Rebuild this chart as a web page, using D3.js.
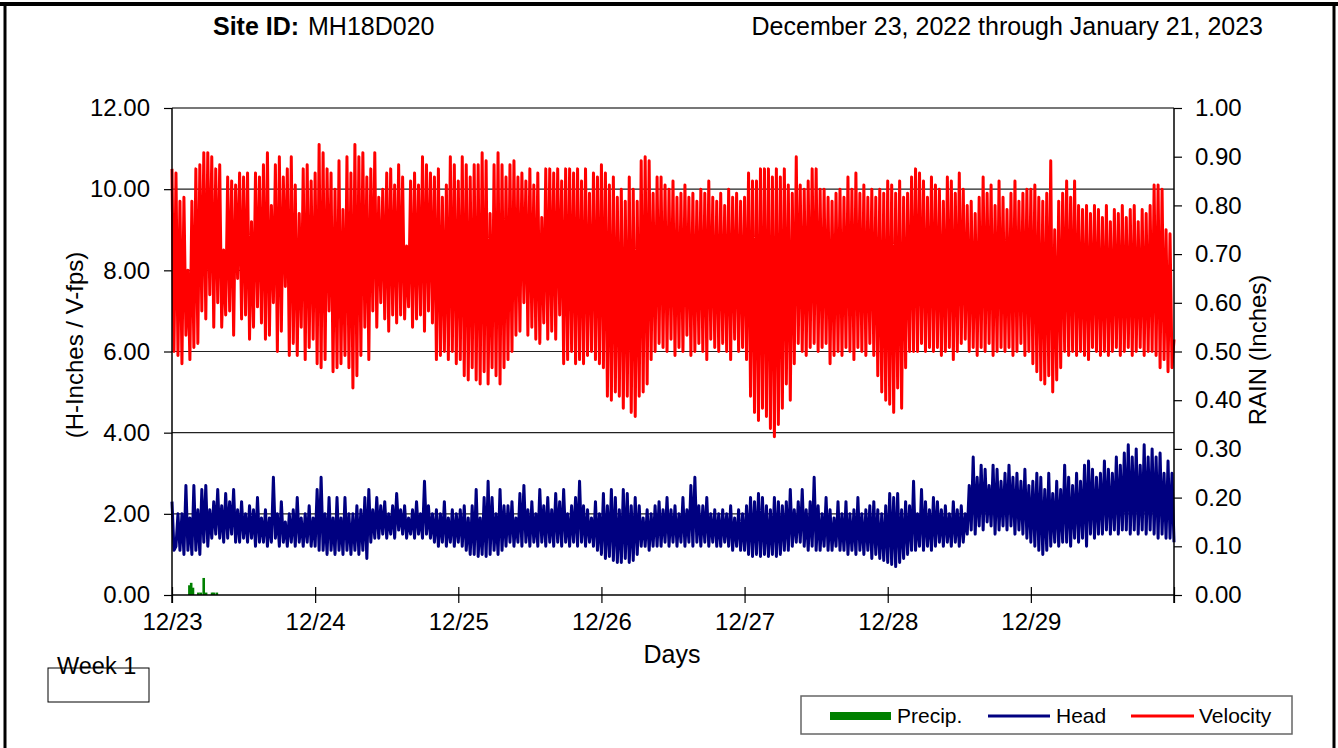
<!DOCTYPE html>
<html><head><meta charset="utf-8">
<script src="https://cdn.jsdelivr.net/npm/d3@7"></script>
<style>body{margin:0;background:#fff}svg{display:block;font-family:"Liberation Sans",Arial,sans-serif}</style>
</head><body><svg id="c" width="1338" height="748"></svg>
<script>
// ---------- data ----------
const dayLabels = ["12/23","12/24","12/25","12/26","12/27","12/28","12/29"];
const leftTicks = [0,2,4,6,8,10,12];
const rightTicks = [0,0.1,0.2,0.3,0.4,0.5,0.6,0.7,0.8,0.9,1.0];
const startDate = new Date(2022,11,23,0,0);
const sampleMinutes = 20;
// Velocity (fps), 20-minute samples, 12/23 00:00 through 12/30 00:00 (72 per day)
const velocity = [
// 12/23
10.5,6.0,10.4,5.9,9.7,5.7,9.8,6.4,8.0,5.8,9.7,6.1,
10.5,6.2,10.6,7.0,10.9,6.8,10.9,7.4,10.8,6.6,10.5,7.2,
10.6,6.6,8.5,6.9,10.3,7.0,10.2,6.4,10.1,7.8,10.4,6.8,
10.3,6.9,10.4,6.3,9.2,6.6,10.4,7.1,10.3,6.7,10.6,6.3,
10.9,6.4,9.6,7.2,10.6,6.0,10.8,6.5,10.3,7.6,10.5,5.9,
10.8,6.2,10.1,5.9,9.4,6.6,10.5,5.8,10.6,6.1,10.2,6.3,
// 12/24
10.4,5.7,11.1,5.6,10.9,5.8,10.5,7.0,10.4,5.5,10.0,5.6,
10.7,5.7,9.5,5.9,10.8,5.6,10.4,5.1,11.1,5.4,10.8,5.9,
10.9,6.6,10.3,5.8,10.5,7.0,10.9,6.6,9.8,7.2,10.0,6.8,
10.4,6.5,10.5,6.9,10.1,6.7,10.6,6.9,10.3,6.8,8.6,7.1,
10.2,6.6,10.4,6.8,10.1,6.9,10.8,6.5,10.6,7.0,10.4,6.7,
10.3,5.8,10.5,5.9,9.8,6.0,10.1,5.8,10.8,6.0,10.6,5.7,
// 12/25
10.2,5.8,10.8,5.4,10.6,5.3,10.3,5.6,10.6,5.3,10.6,5.2,
10.9,5.5,10.7,5.2,9.4,5.6,10.6,5.4,10.9,5.2,10.6,5.6,
10.3,5.8,10.6,6.0,10.7,6.4,10.3,6.5,10.4,7.2,10.2,6.4,
10.5,6.6,10.1,6.3,10.4,6.2,9.3,6.7,10.5,6.3,10.5,6.5,
10.4,6.3,10.5,6.9,10.2,5.7,10.5,5.8,10.5,6.0,10.4,5.7,
10.5,5.8,10.2,5.7,10.5,5.9,9.9,6.0,10.4,5.8,10.3,5.7,
// 12/26
10.6,5.6,10.4,4.9,10.1,4.8,10.3,5.0,9.8,4.9,10.0,4.6,
9.7,4.9,10.3,4.5,10.0,4.4,9.7,4.9,10.7,5.0,10.8,5.2,
10.7,5.8,9.9,6.0,10.3,6.2,10.3,6.1,10.1,6.0,10.0,6.3,
10.2,5.9,9.8,6.1,9.9,6.0,10.1,6.4,9.8,5.9,9.9,6.0,
9.7,6.2,10.0,6.0,9.9,5.8,10.2,6.3,9.8,6.1,9.7,6.0,
9.9,6.2,9.6,6.0,10.0,5.8,9.8,6.3,9.9,6.0,9.7,6.1,
// 12/27
9.8,5.8,10.4,4.9,10.2,4.5,10.2,4.3,10.5,4.6,10.5,4.4,
10.5,4.1,10.3,3.9,10.5,4.2,10.3,4.6,10.5,5.2,10.1,4.8,
9.9,5.7,10.8,6.2,10.1,6.0,10.0,5.9,10.2,6.1,10.5,6.2,
10.5,6.0,10.0,6.1,10.0,6.2,9.8,5.7,9.7,5.9,9.9,6.0,
10.0,5.9,9.8,6.1,10.3,6.0,10.0,5.8,10.4,6.1,9.9,6.0,
10.1,5.9,9.8,6.2,10.0,5.9,9.8,5.4,10.0,5.0,9.9,4.8,
// 12/28
10.2,4.7,10.1,4.5,9.9,5.1,10.2,4.6,9.8,5.6,9.9,6.0,
10.3,6.0,10.5,6.0,10.4,6.2,10.2,6.0,9.8,6.1,10.3,6.0,
10.1,6.1,10.0,5.9,9.7,6.0,10.3,6.1,10.2,5.8,9.9,6.0,
10.4,6.2,10.0,6.3,9.6,6.0,9.7,6.1,9.4,5.9,9.8,6.1,
10.3,6.0,9.9,6.2,10.1,5.9,9.6,6.0,10.2,6.1,9.8,6.0,
9.5,6.1,9.9,5.9,10.2,6.0,9.7,6.2,9.9,5.9,10.0,6.0,
// 12/29
10.0,5.7,10.1,5.5,9.8,5.3,9.7,5.2,9.9,5.4,10.7,5.0,
9.0,5.3,9.7,5.6,9.9,6.0,10.2,5.9,9.8,6.0,10.2,5.9,
9.6,6.0,9.5,5.9,9.6,5.8,9.4,6.1,9.6,6.0,9.5,5.9,
9.3,6.0,9.6,5.9,9.2,6.0,9.5,6.1,9.4,5.9,9.6,6.0,
9.3,6.1,9.5,5.9,9.6,6.0,9.2,6.1,9.5,5.9,9.4,6.0,
9.6,6.0,10.1,5.9,10.1,5.6,10.0,5.8,9.0,5.5,8.9,5.6,
6.3];
// Head (inches), same sampling
const head = [
// 12/23
2.3,1.1,1.2,2.0,1.1,2.0,1.0,2.7,1.1,1.9,1.0,2.7,
1.1,2.1,1.0,2.6,1.3,2.7,1.2,2.1,1.4,2.3,1.5,2.6,
1.4,2.2,1.3,2.5,1.4,2.3,1.5,2.6,1.3,2.1,1.3,2.3,
1.4,2.0,1.3,2.2,1.4,2.1,1.2,2.4,1.3,1.9,1.3,2.1,
1.2,1.9,1.3,2.9,1.4,2.0,1.2,2.3,1.3,1.8,1.2,2.0,
1.3,2.1,1.2,2.4,1.3,1.9,1.2,2.0,1.3,2.2,1.2,1.9,
// 12/24
1.2,2.6,1.1,2.9,1.1,2.0,1.0,2.4,1.1,1.9,1.0,2.4,
1.1,1.9,1.0,2.4,1.1,2.0,1.0,2.0,1.1,2.2,1.0,2.1,
1.1,2.4,0.9,2.6,1.3,2.1,1.4,2.4,1.4,2.2,1.5,2.3,
1.4,2.0,1.5,2.2,1.4,2.5,1.6,2.1,1.5,2.2,1.4,1.9,
1.5,2.1,1.4,2.3,1.5,2.0,1.4,2.8,1.5,2.2,1.4,2.0,
1.3,2.1,1.2,2.0,1.3,2.3,1.2,1.9,1.3,2.1,1.2,2.0,
// 12/25
1.3,2.1,1.2,2.2,1.1,1.9,1.0,2.2,1.0,2.6,0.95,1.9,
1.0,2.4,0.95,2.8,1.0,2.4,1.1,2.0,1.0,2.6,1.1,2.2,
1.2,2.2,1.3,2.3,1.2,1.9,1.3,2.5,1.2,2.7,1.3,2.1,
1.2,2.3,1.3,2.0,1.2,2.6,1.3,2.2,1.2,2.4,1.3,2.1,
1.2,2.5,1.3,2.3,1.2,2.6,1.3,2.0,1.2,2.2,1.3,2.4,
1.2,2.8,1.3,2.2,1.2,2.1,1.3,1.9,1.2,2.3,1.1,2.0,
// 12/26
1.0,2.5,0.9,2.2,0.95,2.6,0.85,2.4,0.8,2.1,0.8,2.6,
0.9,2.5,0.8,2.2,0.85,2.4,1.0,2.2,1.2,1.9,1.2,2.1,
1.1,2.0,1.2,2.2,1.2,2.3,1.2,2.1,1.3,2.4,1.2,2.1,
1.3,2.2,1.2,2.0,1.3,2.4,1.2,2.1,1.3,2.7,1.2,2.9,
1.3,2.2,1.2,2.2,1.3,2.4,1.2,2.0,1.3,2.1,1.2,2.0,
1.2,2.1,1.3,2.0,1.2,2.2,1.1,1.9,1.2,2.1,1.1,2.0,
// 12/27
1.1,2.2,1.0,2.4,0.95,2.3,1.0,2.5,0.95,2.4,1.0,2.2,
0.95,2.1,1.0,2.4,0.95,2.3,1.0,2.2,1.1,2.3,1.1,2.6,
1.2,2.1,1.3,2.3,1.3,2.6,1.2,2.1,1.1,2.3,1.2,2.9,
1.1,2.2,1.1,2.0,1.2,2.4,1.1,2.1,1.1,1.9,1.2,2.3,
1.1,2.0,1.1,2.3,1.0,2.0,1.1,2.1,1.0,2.4,1.1,2.0,
1.0,2.1,1.1,2.2,0.9,2.3,1.0,2.1,0.9,2.0,0.85,2.2,
// 12/28
0.8,2.5,0.75,2.4,0.7,2.5,0.8,2.1,0.9,2.3,1.0,2.2,
1.1,2.8,1.1,2.0,1.2,2.6,1.1,2.3,1.2,2.1,1.1,2.4,
1.2,2.3,1.3,2.1,1.2,2.2,1.3,2.0,1.2,2.3,1.3,2.1,
1.2,2.2,1.3,2.0,1.5,2.7,1.6,3.4,1.5,2.9,1.7,3.2,
1.6,3.1,1.8,2.7,1.7,3.2,1.5,3.1,1.6,2.8,1.7,3.0,
1.6,3.2,1.7,2.9,1.5,3.0,1.6,2.8,1.5,3.1,1.4,2.7,
// 12/29
1.3,2.8,1.2,3.0,1.1,2.9,1.0,2.6,1.1,3.0,1.2,2.5,
1.3,2.8,1.2,2.6,1.3,3.2,1.3,2.9,1.2,2.7,1.4,3.0,
1.3,2.8,1.4,3.2,1.2,3.3,1.5,3.1,1.4,2.9,1.5,3.0,
1.5,3.3,1.6,3.1,1.5,3.0,1.6,3.4,1.5,3.2,1.6,3.5,
1.6,3.7,1.5,3.4,1.6,3.6,1.5,3.2,1.6,3.7,1.5,3.4,
1.6,3.6,1.5,3.4,1.4,3.5,1.5,3.0,1.4,3.3,1.4,3.0,
1.3];
// Rain (inches), hours after 12/23 00:00
const precipHours = [2.9,3.2,3.5,4.4,4.8,5.3,5.7,6.7,7.0,7.5];
const precipInches = [0.02,0.025,0.015,0.005,0.005,0.035,0.005,0.005,0.005,0.005];

// ---------- chart ----------
const svg = d3.select("#c");
const L = 172, R = 1174, T = 108, B = 595;
const FONT = 24;
const endDate = d3.timeDay.offset(startDate, 7);
const x = d3.scaleTime().domain([startDate, endDate]).range([L, R]);
const yL = d3.scaleLinear().domain([0,12]).range([B, T]);
const yR = d3.scaleLinear().domain([0,1]).range([B, T]);
const timeAt = i => d3.timeMinute.offset(startDate, i * sampleMinutes);

// page frame
svg.append("line").attr("x1",0).attr("x2",1338).attr("y1",4).attr("y2",4).attr("stroke","#000").attr("stroke-width",4);
svg.append("line").attr("x1",5).attr("x2",5).attr("y1",2).attr("y2",748).attr("stroke","#000").attr("stroke-width",3);
svg.append("line").attr("x1",1334).attr("x2",1334).attr("y1",2).attr("y2",748).attr("stroke","#000").attr("stroke-width",3);

// header
const hdr = svg.append("text").attr("x",213).attr("y",35).attr("font-size",25).attr("fill","#000");
hdr.append("tspan").attr("font-weight","bold").text("Site ID:");
hdr.append("tspan").attr("x",308).text("MH18D020");
svg.append("text").attr("x",1263).attr("y",35).attr("font-size",25).attr("text-anchor","end").text("December 23, 2022 through January 21, 2023");

// gridlines
svg.append("g").selectAll("line").data(leftTicks.filter(d=>d>0)).join("line")
  .attr("x1",L).attr("x2",R).attr("y1",d=>yL(d)).attr("y2",d=>yL(d))
  .attr("stroke",d=>d===12?"#777":"#222").attr("stroke-width",d=>d===12?2:1.2);

// precip bars
svg.append("g").selectAll("rect").data(precipHours).join("rect")
  .attr("x",(h)=>x(d3.timeMinute.offset(startDate, h*60))-1.2)
  .attr("width",2.6)
  .attr("y",(h,i)=>yR(precipInches[i]))
  .attr("height",(h,i)=>yR(0)-yR(precipInches[i]))
  .attr("fill","#008000");

// lines
const line = (arr, sc) => d3.line().x((d,i)=>x(timeAt(i))).y(d=>sc(d))(arr);
svg.append("path").attr("d",line(head,yL)).attr("fill","none").attr("stroke","#000080").attr("stroke-width",3).attr("stroke-linejoin","round");
svg.append("path").attr("d",line(velocity,yL)).attr("fill","none").attr("stroke","#ff0000").attr("stroke-width",3).attr("stroke-linejoin","round");

// axes
const axL = svg.append("g").attr("transform",`translate(${L},0)`)
  .call(d3.axisLeft(yL).tickValues(leftTicks).tickFormat(d3.format(".2f")).tickSize(8).tickPadding(14));
const axR = svg.append("g").attr("transform",`translate(${R},0)`)
  .call(d3.axisRight(yR).tickValues(rightTicks).tickFormat(d3.format(".2f")).tickSize(8).tickPadding(13));
const dayTicks = d3.range(0,8).map(i=>d3.timeDay.offset(startDate,i));
const axB = svg.append("g").attr("transform",`translate(0,${B})`)
  .call(d3.axisBottom(x).tickValues(dayTicks).tickFormat((d,i)=>dayLabels[i]||"").tickSize(8).tickPadding(10));
axB.selectAll(".tick line").attr("y1",-8).attr("y2",8);
[axL,axR,axB].forEach(a=>{
  a.select(".domain").attr("stroke","#000").attr("stroke-width",1.5);
  a.selectAll(".tick line").attr("stroke","#000").attr("stroke-width",1.2);
  a.selectAll("text").attr("font-size",FONT).attr("fill","#000").attr("font-family",'"Liberation Sans",Arial,sans-serif');
});
axL.select(".domain").attr("d",`M0,${T}V${B+8}`);
axR.select(".domain").attr("d",`M0,${T}V${B+8}`);
axB.select(".domain").attr("d",`M${L},0H${R}`);

// axis titles
svg.append("text").attr("transform","translate(74,345) rotate(-90)").attr("text-anchor","middle").attr("dominant-baseline","central").attr("font-size",FONT).text("(H-Inches / V-fps)");
svg.append("text").attr("transform","translate(1257,350) rotate(-90)").attr("text-anchor","middle").attr("dominant-baseline","central").attr("font-size",FONT).text("RAIN (Inches)");
svg.append("text").attr("x",672).attr("y",663).attr("text-anchor","middle").attr("font-size",25).text("Days");

// Week box
svg.append("rect").attr("x",48).attr("y",668).attr("width",101).attr("height",34).attr("fill","none").attr("stroke","#000").attr("stroke-width",1);
svg.append("text").attr("x",57).attr("y",674).attr("font-size",23.5).text("Week 1");

// legend
const lg = svg.append("g");
lg.append("rect").attr("x",801).attr("y",696).attr("width",491).attr("height",38).attr("fill","#fff").attr("stroke","#666").attr("stroke-width",1.5);
const legendItems = [
  {name:"Precip.", color:"#008000", x1:830, x2:891, tx:897, w:8},
  {name:"Head", color:"#000080", x1:988, x2:1050, tx:1056, w:3},
  {name:"Velocity", color:"#ff0000", x1:1131, x2:1194, tx:1199, w:3}
];
legendItems.forEach(it=>{
  lg.append("line").attr("x1",it.x1).attr("x2",it.x2).attr("y1",716).attr("y2",716).attr("stroke",it.color).attr("stroke-width",it.w);
  lg.append("text").attr("x",it.tx).attr("y",723).attr("font-size",21).text(it.name);
});
</script></body></html>
